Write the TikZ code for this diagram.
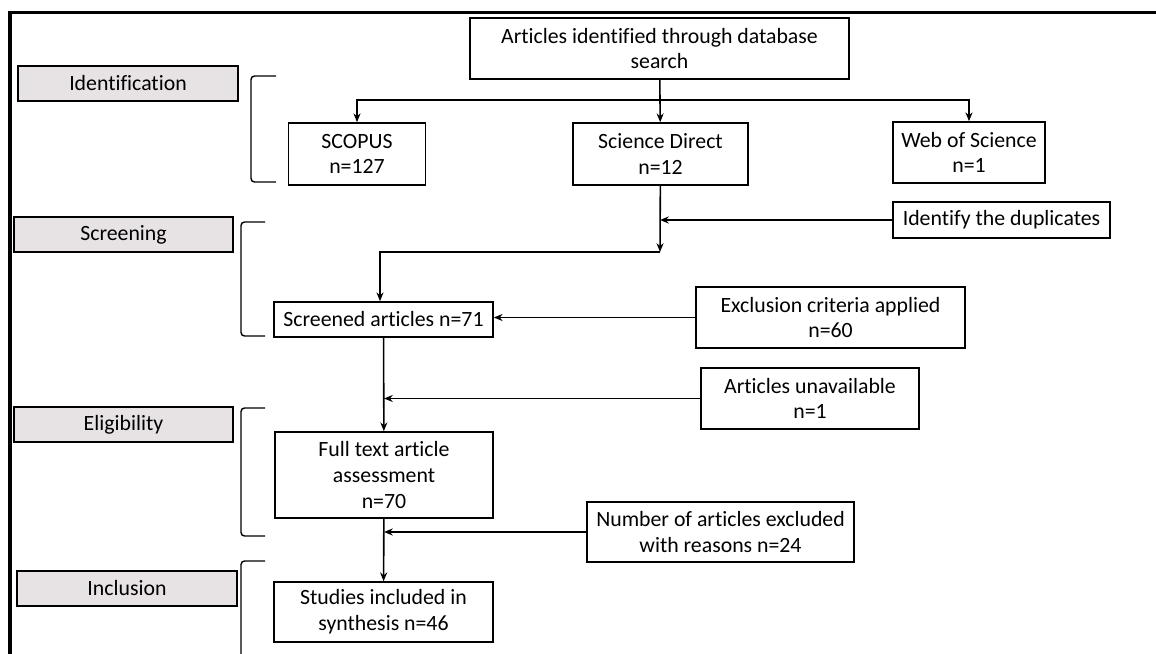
\documentclass[tikz,border=0pt]{standalone}
\usepackage{fontspec}
\setmainfont{Carlito}[Ligatures=NoCommon]
\usetikzlibrary{arrows.meta}
\definecolor{stagegray}{RGB}{231,226,228}
\begin{document}
\begin{tikzpicture}[
    font=\fontsize{12.4}{14.7}\selectfont,
    box/.style={draw, line width=0.9pt, rectangle, align=center, inner sep=2pt},
    stage/.style={draw, line width=0.9pt, rectangle, fill=stagegray, minimum width=4.4cm, minimum height=0.7cm},
    arrow/.style={line width=0.9pt, -{Stealth[length=5pt,width=4pt]}},
    bracket/.style={line width=0.8pt, rounded corners=2pt}
]

        \useasboundingbox (0,0) rectangle (23.12,-13.08);
        \draw[line width=2pt] (23.12,-0.25) -- (0.2,-0.25) -- (0.2,-13.08);

        \node[stage] (ident) at (2.56,-1.67) {Identification};
        \node[stage, minimum width=4.38cm] (screen) at (2.47,-4.69) {Screening};
        \node[stage, minimum width=4.38cm] (elig) at (2.47,-8.49) {Eligibility};
        \node[stage] (incl) at (2.54,-11.77) {Inclusion};

        \draw[bracket] (5.52,-1.52) -- (5.02,-1.52) -- (5.02,-3.64) -- (5.52,-3.64);
        \draw[bracket] (5.30,-4.44) -- (4.82,-4.44) -- (4.82,-6.72) -- (5.30,-6.72);
        \draw[bracket] (5.30,-8.16) -- (4.82,-8.16) -- (4.82,-10.72) -- (5.30,-10.72);
        \draw[bracket] (5.30,-11.22) -- (4.82,-11.22) -- (4.82,-13.2);

        \node[box, minimum width=7.58cm, minimum height=1.22cm] (search) at (13.19,-0.97) {Articles identified through database\\search};
        \node[box, minimum width=2.74cm, minimum height=1.24cm] (scopus) at (7.14,-3.08) {SCOPUS\\n=127};
        \node[box, minimum width=3.5cm, minimum height=1.24cm] (scidirect) at (13.21,-3.08) {Science Direct\\n=12};
        \node[box, minimum width=3.04cm, minimum height=1.22cm] (wos) at (19.38,-3.05) {Web of Science\\n=1};
        \node[box, minimum width=4.34cm, minimum height=0.72cm] (dup) at (20.03,-4.40) {Identify the duplicates};

        \node[box, minimum width=4.38cm, minimum height=0.7cm] (screened) at (7.67,-6.39) {Screened articles n=71};
        \node[box, minimum width=5.38cm, minimum height=1.22cm] (exclusion) at (16.61,-6.35) {Exclusion criteria applied\\n=60};
        \node[box, minimum width=4.36cm, minimum height=1.22cm] (unavail) at (16.2,-7.97) {Articles unavailable\\n=1};
        \node[box, minimum width=4.36cm, minimum height=1.72cm] (fulltext) at (7.68,-9.5) {Full text article\\assessment\\n=70};
        \node[box, minimum width=5.34cm, minimum height=1.2cm] (excluded) at (14.41,-10.64) {Number of articles excluded\\with reasons n=24};
        \node[box, minimum width=4.38cm, minimum height=1.2cm] (studies) at (7.67,-12.24) {Studies included in\\synthesis n=46};

        \coordinate (split) at (13.2,-2.0);
        \coordinate (merge) at (13.2,-5.04);

        \draw[line width=0.9pt] (search) -- (split);
        \draw[arrow] (split) -| (scopus);
        \draw[arrow] (split) -- (scidirect);
        \draw[arrow] (split) -| (wos);

        \draw[arrow] (scidirect) -- (merge);
        \draw[arrow] (dup) -- (dup -| merge);
        \draw[arrow] (merge) -| (screened.north -| 7.6,0);

        \draw[arrow] (exclusion) -- (exclusion.west -| screened.east);
        \draw[arrow] (screened) -- (fulltext);
        \draw[arrow] (unavail) -- (unavail.west -| fulltext);
        \draw[arrow] (fulltext) -- (studies);
        \draw[arrow] (excluded) -- (excluded.west -| fulltext);
    \end{tikzpicture}
\end{document}
